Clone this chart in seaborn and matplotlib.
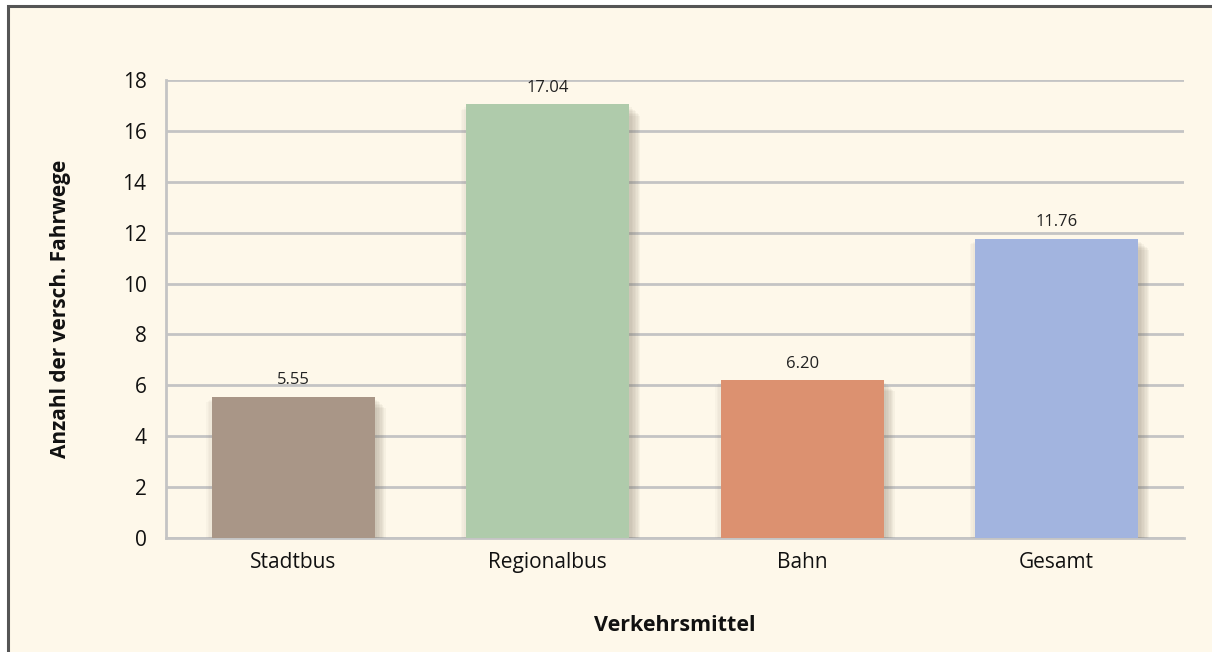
#!/usr/bin/env python3

"""Bar chart: Anzahl der verschiedenen Fahrwege je Verkehrsmittel."""

import seaborn as sns
import pandas as pd
import matplotlib.pyplot as plt
import matplotlib.patheffects as pe
from matplotlib.patches import Rectangle
from matplotlib.ticker import FixedLocator

# DATA
categories = ["Stadtbus", "Regionalbus", "Bahn", "Gesamt"]
values = [5.55, 17.04, 6.20, 11.76]
bar_colors = ["#a99687", "#afcbab", "#dc9170", "#a2b4df"]
y_ticks = [0, 2, 4, 6, 8, 10, 12, 14, 16, 18]

x_label = "Verkehrsmittel"
y_label = "Anzahl der versch. Fahrwege"

bg = "#fef8ea"
grid_col = "#c4c4c4"

sns.set_theme(style="white")
plt.rcParams["font.family"] = ["Open Sans", "DejaVu Sans"]

DataSet = pd.DataFrame({"Verkehrsmittel": categories, "Wert": values})

fig = plt.figure(figsize=(12.12, 6.52), dpi=100, facecolor="white")
# frame around the chart area (only top and left edges visible)
fig.patches.append(Rectangle((7.5 / 1212, 0 - 0.01), 1.05, (652 - 5.5) / 652 + 0.01,
                             transform=fig.transFigure, facecolor=bg,
                             edgecolor="#555555", linewidth=2.2, zorder=-5))

ax = fig.add_axes([166 / 1212, 114 / 652, (1184 - 166) / 1212, (538 - 80) / 652])
ax.set_facecolor("none")
ax.set_zorder(2)

sns.barplot(data=DataSet, x="Verkehrsmittel", y="Wert", hue="Verkehrsmittel",
            palette=bar_colors, legend=False, width=0.64, saturation=1,
            linewidth=0, ax=ax, zorder=3)

# soft drop shadow, built from several faint offset copies
shadow = [pe.SimplePatchShadow(offset=(d, -d), shadow_rgbFace="#7a7060", alpha=0.06)
          for d in (8, 7, 6, 5, 4, 3, 2)]
shadow += [pe.SimplePatchShadow(offset=(-d, -d), shadow_rgbFace="#7a7060", alpha=0.04)
           for d in (4, 3, 2)]
for bar in ax.patches:
    bar.set_path_effects(shadow + [pe.Normal()])

for cont in ax.containers:
    ax.bar_label(cont, fmt="%.2f", padding=6, fontsize=12, color="#222222")

ax.set_ylim(0, 18)
ax.set_xlim(-0.5, 3.5)
ax.set_yticks(y_ticks)
ax.yaxis.grid(True, color=grid_col, linewidth=2, zorder=0)
ax.set_axisbelow(True)

for s in ["top", "right"]:
    ax.spines[s].set_visible(False)
for s in ["left", "bottom"]:
    ax.spines[s].set_color(grid_col)
    ax.spines[s].set_linewidth(2)

ax.tick_params(axis="y", length=0, labelsize=15, pad=14, labelcolor="#111111")
ax.tick_params(axis="x", which="major", length=0, labelsize=15, pad=10, labelcolor="#111111")
ax.xaxis.set_minor_locator(FixedLocator([0.5, 1.5, 2.5, 3.5]))
ax.tick_params(axis="x", which="minor", direction="in", length=9, width=2, color=grid_col)

ax.set_xlabel(x_label, fontsize=15.5, fontweight="bold", labelpad=30, color="#111111")
ax.set_ylabel(y_label, fontsize=15, fontweight="bold", labelpad=37, color="#111111")

plt.savefig("out.png", dpi=100, facecolor=fig.get_facecolor())
